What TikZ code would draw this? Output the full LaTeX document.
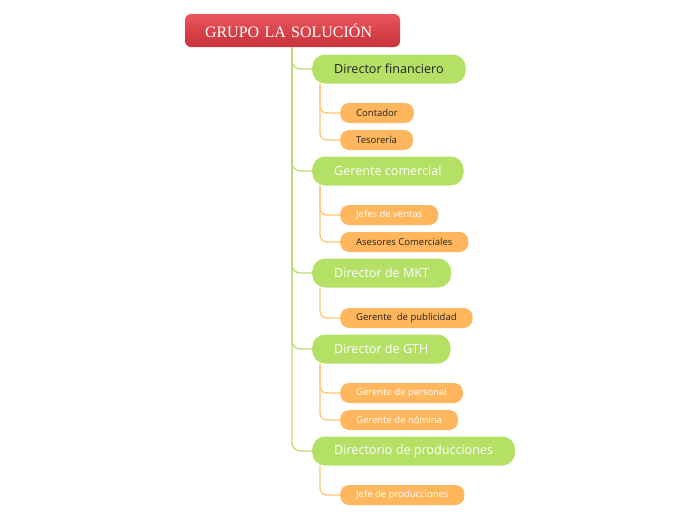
\documentclass[tikz,border=0pt]{standalone}
\usepackage{fontspec}
\setmainfont{Open Sans}
\newfontfamily\titlefont{Liberation Serif}
\definecolor{rootred}{RGB}{232,68,76}
\definecolor{rootdark}{RGB}{200,50,58}
\definecolor{lime}{RGB}{180,224,102}
\definecolor{limeline}{RGB}{184,222,116}
\definecolor{peach}{RGB}{255,182,92}
\definecolor{peachline}{RGB}{255,196,122}
\definecolor{ink}{RGB}{34,34,34}
\tikzset{
  rootbox/.style={rounded corners=6pt, top color=rootred!90!white, bottom color=rootdark,
                  text width=175pt, align=left, inner xsep=20pt, minimum height=33pt,
                  text=white, font=\titlefont\fontsize{16}{18}\selectfont},
  mainbox/.style={fill=lime, rounded corners=13pt, anchor=west, minimum height=29pt,
                  inner xsep=22pt, text=white, font=\fontsize{12.6}{14}\selectfont},
  subbox/.style={fill=peach, rounded corners=9pt, anchor=west, minimum height=20pt,
                 inner xsep=16pt, text=white, font=\fontsize{9.5}{11}\selectfont},
  dark/.style={text=ink},
  mainline/.style={draw=limeline, line width=1.3pt, rounded corners=8pt},
  subline/.style={draw=peachline, line width=1.3pt, rounded corners=7pt}
}
\begin{document}
\begin{tikzpicture}[x=1pt, y=-1pt]
  \useasboundingbox[fill=white] (0,0) rectangle (696,520);

  % top of the chart
  \node[rootbox] (root) at (292.5,30.5) {GRUPO LA SOLUCIÓN};
  \coordinate (trunk) at (292,47);

  % directors
  \node[mainbox, dark] (fin) at (312,69)  {Director financiero};
  \node[mainbox]       (com) at (312,171) {Gerente comercial};
  \node[mainbox]       (mkt) at (312,273) {Director de MKT};
  \node[mainbox]       (gth) at (312,349) {Director de GTH};
  \node[mainbox]       (pro) at (312,451) {Directorio de producciones};

  % staff
  \node[subbox, dark] (cont) at (340,113) {Contador};
  \node[subbox, dark] (tes)  at (340,140) {Tesorería};
  \node[subbox]       (jven) at (340,215) {Jefes de ventas};
  \node[subbox, dark] (ases) at (340,242) {Asesores Comerciales};
  \node[subbox, dark] (pub)  at (340,318) {Gerente~ de publicidad};
  \node[subbox]       (pers) at (340,393) {Gerente de personal};
  \node[subbox]       (nom)  at (340,420) {Gerente de nómina};
  \node[subbox]       (jpro) at (340,495) {Jefe de producciones};

  \foreach \d in {fin,com,mkt,gth,pro}
    \draw[mainline] (trunk) |- (\d.west);

  \foreach \d/\s in {fin/cont,fin/tes,com/jven,com/ases,mkt/pub,gth/pers,gth/nom,pro/jpro}
    \draw[subline] ([xshift=8pt]\d.south west) |- (\s.west);
\end{tikzpicture}
\end{document}
